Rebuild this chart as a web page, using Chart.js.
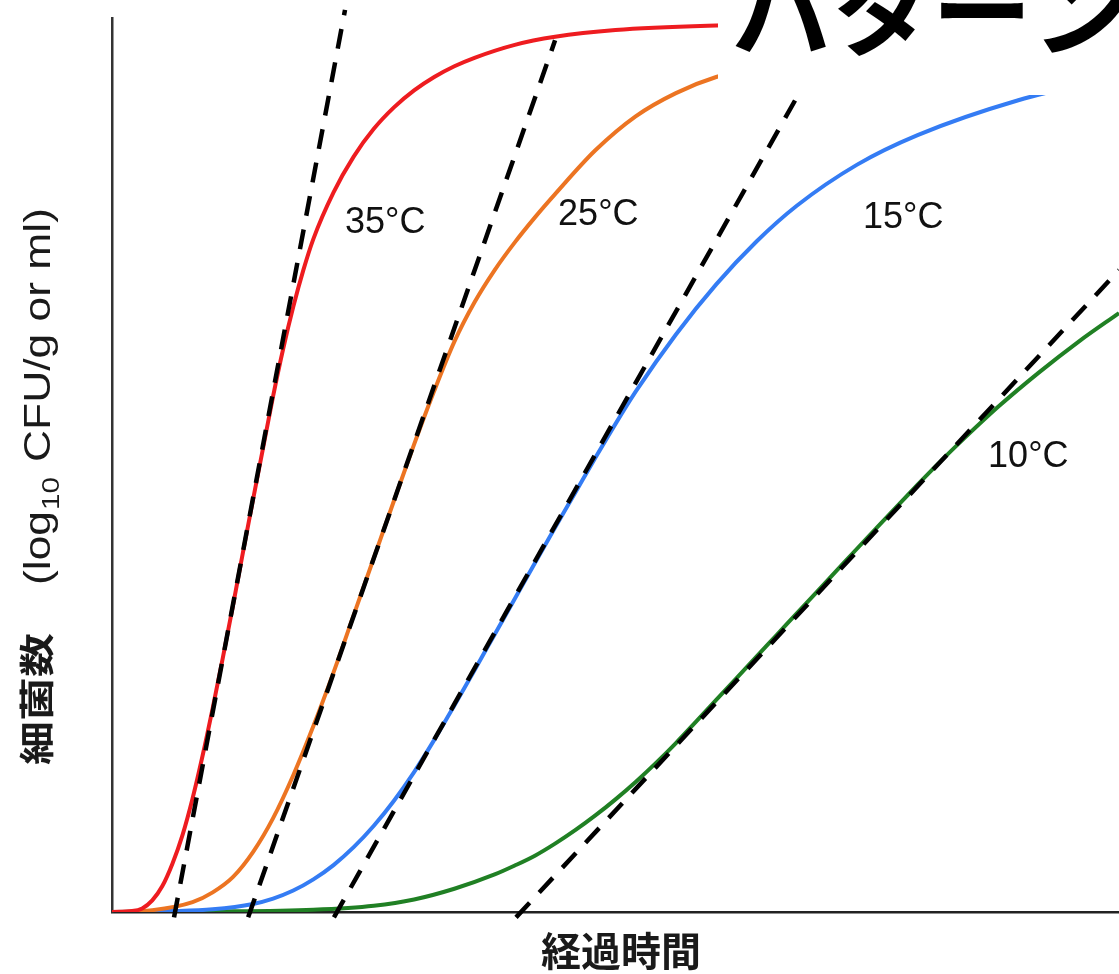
<!DOCTYPE html>
<html>
<head>
<meta charset="utf-8">
<script src="https://cdn.jsdelivr.net/npm/chart.js@4.4.0/dist/chart.umd.min.js"></script>
<style>
  html, body { margin: 0; padding: 0; background: #fff; }
</style>
</head>
<body>
<canvas id="growth-chart" width="1119" height="974"></canvas>
<script>
// elapsed time (arbitrary h) and log10 CFU
let red_time = [0, 1, 1.5, 2, 2.5, 3, 3.5, 4, 4.5, 5, 5.5, 6, 6.5, 7, 7.5, 8, 8.5, 9, 9.5, 10, 11, 12, 13, 14, 15, 16, 17, 18, 20, 22, 25, 30, 37, 50];
let red_count = [0, 0.01, 0.04, 0.13, 0.29, 0.54, 0.86, 1.27, 1.75, 2.28, 2.84, 3.42, 4.02, 4.61, 5.19, 5.77, 6.30, 6.77, 7.18, 7.53, 8.05, 8.45, 8.76, 9.00, 9.19, 9.34, 9.46, 9.555, 9.70, 9.79, 9.865, 9.915, 9.94, 9.97];

let orange_time = [0, 2, 4, 5, 6, 7, 8, 9, 10, 11, 12, 13, 14, 15, 16, 17, 18, 19, 20, 21, 22, 24, 26, 28, 30, 35, 40, 45, 50];
let orange_count = [0, 0.02, 0.11, 0.22, 0.39, 0.67, 1.05, 1.53, 2.08, 2.68, 3.32, 3.96, 4.60, 5.23, 5.83, 6.38, 6.82, 7.18, 7.49, 7.77, 8.03, 8.52, 8.90, 9.16, 9.34, 9.59, 9.73, 9.81, 9.86];

let blue_time = [0, 3, 5, 7, 8, 9, 10, 11, 12, 13, 14, 15, 16, 17, 18, 19, 20, 21, 22, 23, 24, 25, 26, 28, 30, 32, 34, 37, 40, 45, 50];
let blue_count = [0, 0.01, 0.03, 0.09, 0.15, 0.24, 0.365, 0.525, 0.725, 0.965, 1.245, 1.565, 1.925, 2.31, 2.705, 3.105, 3.505, 3.905, 4.30, 4.69, 5.08, 5.46, 5.82, 6.46, 7.02, 7.50, 7.90, 8.36, 8.69, 9.08, 9.35];

let green_time = [0, 5, 10, 13, 15, 17, 19, 20, 21, 22, 23, 24, 25, 26, 27, 28, 29, 30, 31, 32, 33, 34, 35, 36, 37, 38, 39, 40, 41, 42, 44, 46, 48, 50];
let green_count = [0, 0.005, 0.025, 0.07, 0.14, 0.26, 0.42, 0.52, 0.63, 0.765, 0.915, 1.08, 1.26, 1.455, 1.665, 1.89, 2.13, 2.372, 2.614, 2.856, 3.098, 3.34, 3.582, 3.824, 4.066, 4.306, 4.544, 4.779, 5.009, 5.231, 5.651, 6.031, 6.381, 6.70];

// dashed tangents (start / end of each line)
let red_tangent_time = [3.08, 11.57];
let red_tangent_count = [-0.06, 10.09];
let orange_tangent_time = [6.76, 22.0];
let orange_tangent_count = [-0.06, 9.75];
let blue_tangent_time = [11.02, 35.6];
let blue_tangent_count = [-0.06, 9.75];
let green_tangent_time = [20.06, 50];
let green_tangent_count = [-0.06, 7.18];

let temp_labels = ['35°C', '25°C', '15°C', '10°C'];

function toPoints(xs, ys) {
    return xs.map((t, i) => ({x: t, y: ys[i]}));
}

function curve(xs, ys, color) {
    return {
        data: toPoints(xs, ys),
        borderColor: color,
        borderWidth: 4,
        pointRadius: 0,
        cubicInterpolationMode: 'monotone',
        fill: false,
        order: 1
    };
}

function tangent(xs, ys) {
    return {
        data: toPoints(xs, ys),
        borderColor: '#000',
        borderWidth: 4.5,
        borderDash: [20, 14],
        borderCapStyle: 'butt',
        pointRadius: 0,
        tension: 0,
        fill: false,
        clip: false,
        order: 0
    };
}

// draws text stretched to a given run length (rotated frame)
function drawFitted(ctx, text, font, x0, len, dy) {
    ctx.font = font;
    let w = ctx.measureText(text).width;
    ctx.save();
    ctx.translate(x0, dy || 0);
    ctx.scale(len / w, 1);
    ctx.fillText(text, 0, 0);
    ctx.restore();
}

const annotate = {
    id: 'annotate',
    afterDraw(chart) {
        const {ctx, scales: {x, y}} = chart;
        ctx.save();

        // curve labels
        const anchors = [[11.57, 7.60], [22.15, 7.68], [37.29, 7.65], [43.5, 4.98]];
        ctx.fillStyle = '#111';
        ctx.font = '36px "Liberation Sans", Arial, sans-serif';
        ctx.textAlign = 'left';
        ctx.textBaseline = 'alphabetic';
        temp_labels.forEach((t, i) => {
            ctx.fillText(t, x.getPixelForValue(anchors[i][0]), y.getPixelForValue(anchors[i][1]));
        });

        // heading on white box (cut at top of the image)
        ctx.fillStyle = '#fff';
        ctx.fillRect(718, 0, 401, 95);
        ctx.fillStyle = '#000';
        ctx.font = 'bold 100px "Noto Sans CJK JP"';
        ctx.textBaseline = 'middle';
        ctx.fillText('パターン', 732, 11);

        // x axis title
        ctx.fillStyle = '#1a1a1a';
        ctx.font = 'bold 40px "Noto Sans CJK JP"';
        ctx.textAlign = 'center';
        ctx.textBaseline = 'middle';
        ctx.fillText('経過時間', 621, 951);

        // y axis title, rotated
        ctx.translate(50, 765);
        ctx.rotate(-Math.PI / 2);
        ctx.textAlign = 'left';
        ctx.textBaseline = 'alphabetic';
        drawFitted(ctx, '細菌数', 'bold 35px "Noto Sans CJK JP"', 0, 132);
        const latinFont = '36px "Liberation Sans", Arial, sans-serif';
        const subFont = '24px "Liberation Sans", Arial, sans-serif';
        ctx.font = latinFont;
        let w1 = ctx.measureText('(log').width;
        let w3 = ctx.measureText(' CFU/g or ml)').width;
        ctx.font = subFont;
        let w2 = ctx.measureText('10').width + 3;
        let s = 377 / (w1 + w2 + w3);
        drawFitted(ctx, '(log', latinFont, 180, w1 * s);
        drawFitted(ctx, '10', subFont, 180 + w1 * s + 1, (w2 - 3) * s, 9);
        drawFitted(ctx, ' CFU/g or ml)', latinFont, 180 + (w1 + w2) * s, w3 * s);

        ctx.restore();
    }
};

const ctx = document.getElementById('growth-chart').getContext('2d');
new Chart(ctx, {
    type: 'line',
    data: {
        datasets: [
            curve(red_time, red_count, 'rgb(238, 28, 32)'),
            curve(orange_time, orange_count, 'rgb(236, 116, 34)'),
            curve(blue_time, blue_count, 'rgb(52, 124, 244)'),
            curve(green_time, green_count, 'rgb(32, 128, 36)'),
            tangent(red_tangent_time, red_tangent_count),
            tangent(orange_tangent_time, orange_tangent_count),
            tangent(blue_tangent_time, blue_tangent_count),
            tangent(green_tangent_time, green_tangent_count)
        ]
    },
    options: {
        responsive: false,
        animation: false,
        layout: {padding: {left: 112, top: 18, right: 0, bottom: 62}},
        plugins: {
            legend: {display: false},
            tooltip: {enabled: false}
        },
        scales: {
            x: {
                type: 'linear', min: 0, max: 50,
                ticks: {display: false},
                grid: {display: false, drawTicks: false},
                border: {display: true, color: '#222', width: 2.5}
            },
            y: {
                type: 'linear', min: 0, max: 10,
                ticks: {display: false},
                grid: {display: false, drawTicks: false},
                border: {display: true, color: '#333', width: 2.5}
            }
        }
    },
    plugins: [annotate]
});
</script>
</body>
</html>
